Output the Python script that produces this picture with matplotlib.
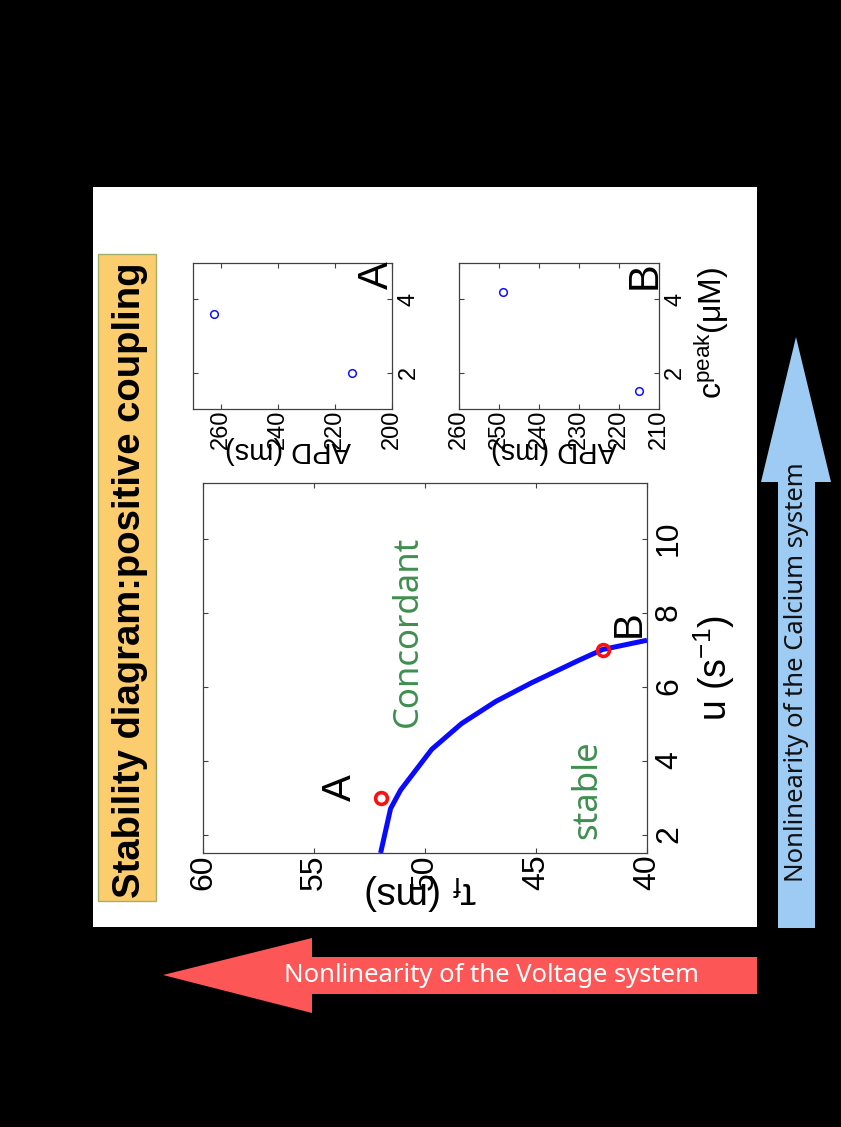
import matplotlib
matplotlib.use("Agg")
import matplotlib.pyplot as plt
from matplotlib.patches import Rectangle, Polygon

plt.rcParams['font.family'] = ['Liberation Sans', 'DejaVu Sans']
plt.rcParams['mathtext.default'] = 'regular'

NARROW = ['Liberation Sans Narrow', 'Liberation Sans']
GREEN = '#3f8f4f'

# stability boundary in the (u, tau_f) plane
u_curve = [1.5, 2.7, 3.2, 4.3, 5.0, 5.6, 6.1, 6.7, 7.0, 7.25]
tau_curve = [52.0, 51.55, 51.1, 49.7, 48.35, 46.8, 45.2, 43.1, 42.0, 40.0]

# the two sample parameter sets
pt_names = ['A', 'B']
pt_u = [3.0, 7.0]
pt_tau = [52.0, 42.0]

# APD vs calcium peak for each sample
cpeak_A = [2.0, 3.6]
apd_A = [214, 262.5]
cpeak_B = [1.5, 4.2]
apd_B = [215, 249]

tau_ticks = [60, 55, 50, 45, 40]
u_ticks = [2, 4, 6, 8, 10]
apd_ticks_A = [260, 240, 220, 200]
apd_ticks_B = [260, 250, 240, 230, 220, 210]
cpeak_ticks = [2, 4]


def style_axes(ax, fs, xpad, ypad):
    for s in ax.spines.values():
        s.set_color('#404040')
        s.set_linewidth(0.9)
    ax.yaxis.tick_right()
    ax.tick_params(direction='in', length=3.5, width=0.8, color='#404040',
                   top=True, bottom=True, left=True, right=True,
                   labelleft=False, labelright=True)
    ax.tick_params(axis='x', pad=xpad)
    ax.tick_params(axis='y', pad=ypad)
    for lbl in ax.get_xticklabels() + ax.get_yticklabels():
        lbl.set_rotation(90)
        lbl.set_fontfamily(NARROW)
        lbl.set_fontsize(fs)
    for lbl in ax.get_yticklabels():
        lbl.set_va('center')


W, H = 841, 1127
fig = plt.figure(figsize=(W / 100, H / 100), dpi=100, facecolor='black')

# slide background: white panel, title box and the two arrows
bg = fig.add_axes([0, 0, 1, 1], zorder=-1)
bg.set_xlim(0, W)
bg.set_ylim(H, 0)
bg.axis('off')
bg.add_patch(Rectangle((93, 187), 664, 740, fc='white', ec='none'))
bg.add_patch(Rectangle((98, 254), 58, 647, fc='#fccd6e', ec='#9fb06c', lw=1))
bg.text(130, 580, 'Stability diagram:positive coupling', rotation=90,
        ha='center', va='center', fontsize=27.5, fontweight='bold', color='black')

bg.add_patch(Polygon([(163, 975), (312, 938), (312, 957), (757, 957), (757, 994),
                      (312, 994), (312, 1013)], closed=True, fc='#fd5656', ec='none'))
bg.text(492, 976, 'Nonlinearity of the Voltage system', ha='center', va='center',
        fontsize=18.5, color='white', family=['Noto Sans', 'DejaVu Sans'])

bg.add_patch(Polygon([(796, 337), (831, 482), (815, 482), (815, 928), (778, 928),
                      (778, 482), (761, 482)], closed=True, fc='#9dcbf3', ec='none'))
bg.text(797, 672, 'Nonlinearity of the Calcium system', rotation=90, ha='center',
        va='center', fontsize=18.5, color='#111111', family=['Noto Sans', 'DejaVu Sans'])

# main stability diagram, drawn with tau_f across and u upward
ax = fig.add_axes([203 / W, 1 - 853 / H, 444 / W, 370 / H])
ax.plot(tau_curve, u_curve, color='#0a0aff', lw=3.6, solid_capstyle='butt')
ax.plot(pt_tau, pt_u, 'o', ms=8.5, mfc='none', mec='#ff1010', mew=2.6)
ax.set_xlim(60, 40)
ax.set_ylim(1.5, 11.5)
ax.set_xticks(tau_ticks)
ax.set_yticks(u_ticks)
style_axes(ax, 23, 1, 5)

ax.text(53.85, 3.27, 'A', rotation=90, ha='center', va='center', fontsize=29, family=NARROW)
ax.text(40.8, 7.7, 'B', rotation=90, ha='center', va='center', fontsize=29, family=NARROW)
ax.text(50.75, 7.5, 'Concordant', rotation=90, ha='center', va='center', fontsize=25,
        color=GREEN, family=['Noto Sans', 'DejaVu Sans'])
ax.text(42.7, 3.22, 'stable', rotation=90, ha='center', va='center', fontsize=25,
        color=GREEN, family=['Noto Sans', 'DejaVu Sans'])

ax.set_xlabel(r'$\tau_f$ (ms)', rotation=180, fontsize=28, va='center')
ax.xaxis.set_label_coords(0.491, -0.105)
ax.yaxis.set_label_position('right')
ax.set_ylabel(r'u (s$^{-1}$)', fontsize=27, family=NARROW)
ax.yaxis.set_label_coords(1.1, 0.5)

# APD against peak calcium for the two samples
panels = [
    (192.7, cpeak_A, apd_A, (270, 200), apd_ticks_A, 'A', 205.2),
    (459.0, cpeak_B, apd_B, (260, 210), apd_ticks_B, 'B', 213.5),
]
for left, cp, apd, xlim, xt, name, name_x in panels:
    sax = fig.add_axes([left / W, 1 - 409.3 / H, 199.5 / W, 146.6 / H])
    sax.plot(apd, cp, 'o', ms=5.5, mfc='none', mec='#1010ff', mew=1.1)
    sax.set_xlim(*xlim)
    sax.set_ylim(1, 5)
    sax.set_xticks(xt)
    sax.set_yticks(cpeak_ticks)
    style_axes(sax, 17, 0, 4)
    sax.text(name_x, 4.67, name, rotation=90, ha='center', va='center',
             fontsize=30, family=NARROW)
    sax.set_xlabel('APD (ms)', rotation=180, fontsize=21, va='center')
    sax.xaxis.set_label_coords(0.478, -0.28)
    if name == 'B':
        sax.yaxis.set_label_position('right')
        sax.set_ylabel(r'c$^{peak}$($\mu$M)', fontsize=23, family=NARROW)
        sax.yaxis.set_label_coords(1.17, 0.52)

fig.savefig('out.png', dpi=100, facecolor=fig.get_facecolor())
